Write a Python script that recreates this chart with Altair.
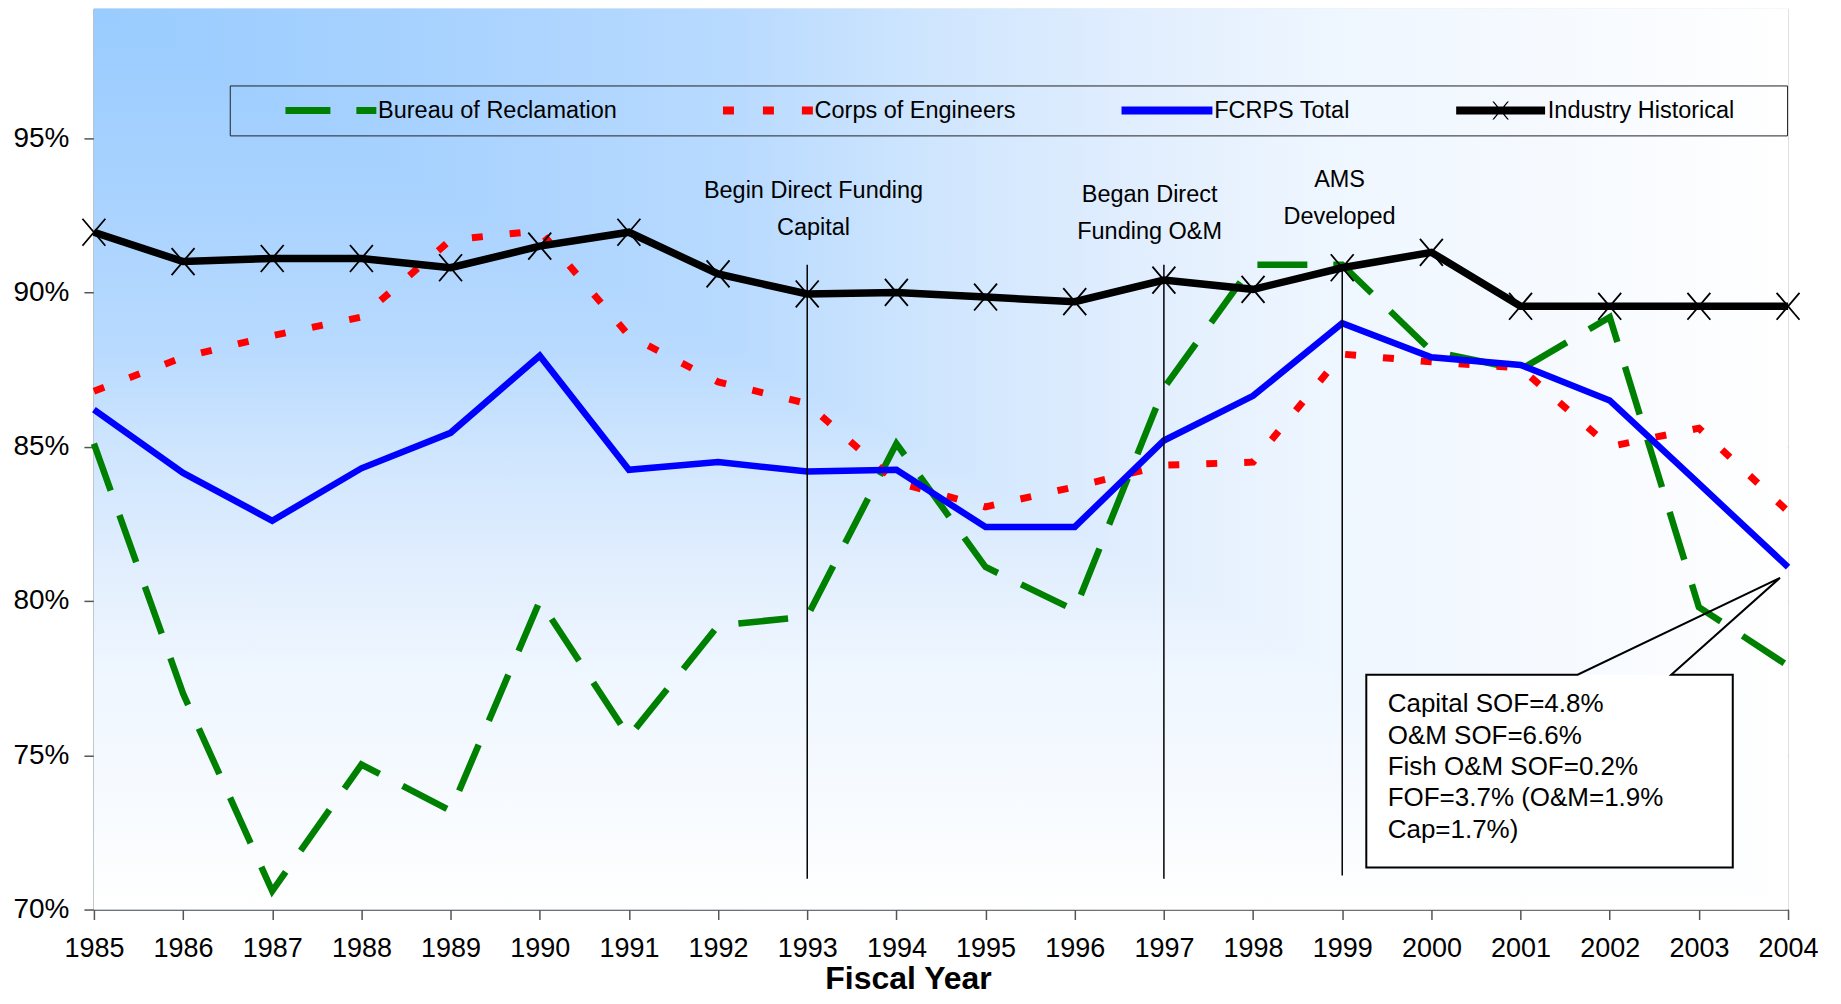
import altair as alt
import pandas as pd

# ---------------- data ----------------
YEARS = list(range(1985, 2005))
SERIES = ["Bureau of Reclamation", "Corps of Engineers", "FCRPS Total", "Industry Historical"]
BUREAU = [85.1, 77.0, 70.6, 74.7, 73.2, 80.0, 75.6, 79.2, 79.5, 85.1,
          81.1, 79.7, 86.9, 90.9, 90.9, 88.1, 87.5, 89.2, 79.8, 77.9]
CORPS = [86.8, 87.9, 88.6, 89.2, 91.7, 92.0, 88.6, 87.1, 86.4, 83.85,
         83.05, 83.7, 84.4, 84.5, 88.0, 87.75, 87.55, 85.0, 85.6, 82.9]
FCRPS = [86.2, 84.15, 82.6, 84.3, 85.45, 87.95, 84.25, 84.5, 84.2, 84.25,
         82.4, 82.4, 85.2, 86.65, 89.0, 87.9, 87.65, 86.5, 83.8, 81.1]
INDUSTRY = [91.95, 91.0, 91.1, 91.1, 90.8, 91.5, 91.95, 90.6, 89.95, 90.0,
            89.85, 89.7, 90.4, 90.1, 90.8, 91.3, 89.55, 89.55, 89.55, 89.55]
COLORS = ["#008000", "#FF0000", "#0000FF", "#000000"]

Y_TICKS = [70, 75, 80, 85, 90, 95]
Y_MIN, Y_MAX = 70, 99.2

EVENT_YEARS = [1993, 1997, 1999]
EVENT_TOP = [90.9, 90.9, 90.9]
EVENT_BOTTOM = [71.0, 71.0, 71.1]
EVENT_TEXT = ["Begin Direct Funding\nCapital", "Began Direct\nFunding O&M", "AMS\nDeveloped"]
EVENT_TEXT_X = [1993.07, 1996.84, 1998.97]
EVENT_TEXT_Y = [93.28, 93.15, 93.63]

CALLOUT_TEXT = "Capital SOF=4.8%\nO&M SOF=6.6%\nFish O&M SOF=0.2%\nFOF=3.7% (O&M=1.9%\nCap=1.7%)"
CALLOUT_BOX_X = [1999.27, 2003.38]
CALLOUT_BOX_Y = [77.61, 71.36]
CALLOUT_PTR_X = [2001.64, 2003.91, 2002.69]
CALLOUT_PTR_Y = [77.61, 80.75, 77.61]
CALLOUT_TEXT_POS = (1999.51, 76.65)

# ---------------- tables ----------------
rows = []
for name, vals in zip(SERIES, [BUREAU, CORPS, FCRPS, INDUSTRY]):
    for yr, v in zip(YEARS, vals):
        rows.append({"year": yr, "series": name, "pct": v})
df = pd.DataFrame(rows)

FONT = "Liberation Sans, Arial, sans-serif"

X_SCALE = alt.Scale(domain=[1985, 2004], nice=False, zero=False)
Y_SCALE = alt.Scale(domain=[Y_MIN, Y_MAX], nice=False, zero=False)
X_AXIS = alt.Axis(values=YEARS, format="d", labelFontSize=27, labelColor="black",
                  labelPadding=16, tickSize=10, tickColor="#555555", tickWidth=1.5,
                  domainColor="#555555", domainWidth=1.5, grid=False,
                  labelFlush=False, labelOverlap=False,
                  title="Fiscal Year", titleFontSize=32, titleFontWeight="bold",
                  titleColor="black", titleX=815, titleY=79, titleAlign="center",
                  titleBaseline="alphabetic")
Y_AXIS = alt.Axis(values=Y_TICKS, labelExpr="datum.value + '%'", labelFontSize=28,
                  labelColor="black", labelPadding=15, tickSize=10, tickColor="#555555",
                  tickWidth=1.5, domainColor="#555555", domainWidth=1.5, grid=True,
                  gridColor="#C8C8C8", gridWidth=2, title=None)


def X(f):
    return alt.X(f, type="quantitative", scale=X_SCALE, axis=X_AXIS)


def Y(f):
    return alt.Y(f, type="quantitative", scale=Y_SCALE, axis=Y_AXIS)


STOPS = [(0.0, "#99CCFF"), (0.2, "#A8D2FF"), (0.375, "#B8DAFF"), (0.5, "#D0E6FE"),
         (0.645, "#E5F0FE"), (0.73, "#EEF6FF"), (0.93, "#FAFCFF"), (1.0, "#FFFFFF")]
stops = [alt.GradientStop(offset=o, color=c) for o, c in STOPS]

bg_df = pd.DataFrame({"year": [1985], "year2": [2004], "pct": [Y_MAX], "pct2": [Y_MIN]})
bg_rect = alt.Chart(bg_df).mark_rect(
    fill=alt.LinearGradient(gradient="linear", stops=stops, x1=0, y1=0, x2=1, y2=0),
    opacity=1).encode(x=X("year"), x2="year2", y=Y("pct"), y2="pct2")

tri_df = pd.DataFrame({"year": [1985, 2004], "pct": [Y_MAX, Y_MIN], "pct2": [Y_MIN, Y_MIN]})
bg_tri = alt.Chart(tri_df).mark_area(
    fill=alt.LinearGradient(gradient="linear", stops=stops, x1=0, y1=0, x2=0, y2=1),
    opacity=1, strokeWidth=0).encode(x=X("year"), y=Y("pct"), y2="pct2")


def series_line(name, color, width, dash=None):
    kw = dict(color=color, strokeWidth=width, opacity=1)
    if dash:
        kw["strokeDash"] = dash
    return alt.Chart(df).transform_filter(alt.datum.series == name).mark_line(**kw).encode(
        x=X("year"), y=Y("pct"))


green = series_line(SERIES[0], COLORS[0], 6.5, [50, 26])
red = series_line(SERIES[1], COLORS[1], 7, [11, 27])
blue = series_line(SERIES[2], COLORS[2], 6.5)
black = series_line(SERIES[3], COLORS[3], 7.5)

XPATH = "M-0.85,-1L0.85,1M-0.85,1L0.85,-1"
xmarks = alt.Chart(df).transform_filter(alt.datum.series == SERIES[3]).mark_point(
    shape=XPATH, filled=False, color="black", strokeWidth=1.8, size=729, opacity=1).encode(
    x=X("year"), y=Y("pct"))

ev_df = pd.DataFrame({"year": EVENT_YEARS, "pct": EVENT_TOP, "pct2": EVENT_BOTTOM})
ev_rules = alt.Chart(ev_df).mark_rule(color="black", strokeWidth=1.5).encode(
    x=X("year"), y=Y("pct"), y2="pct2")

evt_df = pd.DataFrame({"year": EVENT_TEXT_X, "pct": EVENT_TEXT_Y, "text": EVENT_TEXT})
ev_text = alt.Chart(evt_df).mark_text(
    lineBreak="\n", lineHeight=37, fontSize=23.5, font=FONT, align="center",
    baseline="middle", color="black").encode(x=X("year"), y=Y("pct"), text="text:N")

box_df = pd.DataFrame({"year": [CALLOUT_BOX_X[0]], "year2": [CALLOUT_BOX_X[1]],
                       "pct": [CALLOUT_BOX_Y[0]], "pct2": [CALLOUT_BOX_Y[1]]})
box_fill = alt.Chart(box_df).mark_rect(color="white", opacity=1).encode(
    x=X("year"), x2="year2", y=Y("pct"), y2="pct2")

bx0, bx1 = CALLOUT_BOX_X
by0, by1 = CALLOUT_BOX_Y
outline_x = [(bx0 + CALLOUT_PTR_X[0]) / 2, CALLOUT_PTR_X[0], CALLOUT_PTR_X[1], CALLOUT_PTR_X[2],
             bx1, bx1, bx0, bx0, (bx0 + CALLOUT_PTR_X[0]) / 2]
outline_y = [by0, CALLOUT_PTR_Y[0], CALLOUT_PTR_Y[1], CALLOUT_PTR_Y[2], by0, by1, by1, by0, by0]
outline_df = pd.DataFrame({"year": outline_x, "pct": outline_y, "i": list(range(len(outline_x)))})
box_line = alt.Chart(outline_df).mark_line(color="black", strokeWidth=2, opacity=1).encode(
    x=X("year"), y=Y("pct"), order="i:Q")

ct_df = pd.DataFrame({"year": [CALLOUT_TEXT_POS[0]], "pct": [CALLOUT_TEXT_POS[1]], "text": [CALLOUT_TEXT]})
box_text = alt.Chart(ct_df).mark_text(
    lineBreak="\n", lineHeight=31.4, fontSize=26, font=FONT, align="left",
    baseline="middle", color="black").encode(x=X("year"), y=Y("pct"), text="text:N")

# legend symbols (custom paths, 1 unit = 10 px at size 400)
PATHS = [
    "M-4.55,-0.35L-0.05,-0.35L-0.05,0.35L-4.55,0.35ZM2.55,-0.35L4.55,-0.35L4.55,0.35L2.55,0.35Z",
    "M-4.45,-0.4L-3.35,-0.4L-3.35,0.4L-4.45,0.4ZM-0.45,-0.4L0.65,-0.4L0.65,0.4L-0.45,0.4ZM3.45,-0.4L4.55,-0.4L4.55,0.4L3.45,0.4Z",
    "M-4.55,-0.4L4.55,-0.4L4.55,0.4L-4.55,0.4Z",
    "M-4.45,-0.4L4.45,-0.4L4.45,0.4L-4.45,0.4ZM-0.83,-0.9L-0.67,-0.9L0.83,0.9L0.67,0.9ZM0.67,-0.9L0.83,-0.9L-0.67,0.9L-0.83,0.9Z",
]
NB = "\u00a0" * 6 + "\u200b"
LEG = alt.Legend(orient="none", legendX=136, legendY=77, direction="horizontal", columns=4,
                 title="\u00a0", titleOrient="left", titleFontSize=10, titlePadding=45,
                 symbolSize=400, symbolStrokeWidth=0, symbolOffset=31.5,
                 labelOffset=35.5, labelFont=FONT, labelFontSize=23.5, labelColor="black",
                 labelExpr="datum.label == 'Industry Historical' ? datum.label + '" + NB + "' : datum.label",
                 labelLimit=600, columnPadding=105, padding=13, strokeColor="#222222",
                 symbolOpacity=1)
legend_layer = alt.Chart(df).transform_filter("false").mark_point(
    filled=True, opacity=1, size=400, strokeWidth=0).encode(
    x=X("year"), y=Y("pct"),
    color=alt.Color("series:N", scale=alt.Scale(domain=SERIES, range=COLORS), legend=LEG),
    shape=alt.Shape("series:N", scale=alt.Scale(domain=SERIES, range=PATHS), legend=LEG))

chart = alt.layer(
    bg_rect, bg_tri, green, red, blue, black, xmarks, ev_rules, ev_text,
    box_fill, box_line, box_text, legend_layer
).properties(
    width=1696, height=902,
    autosize=alt.AutoSizeParams(type="none"),
    padding={"left": 86, "top": 0, "right": 45, "bottom": 86},
).configure_view(stroke=None).configure(font=FONT)

chart.save("out.html", embed_options={"renderer": "svg", "actions": False})
